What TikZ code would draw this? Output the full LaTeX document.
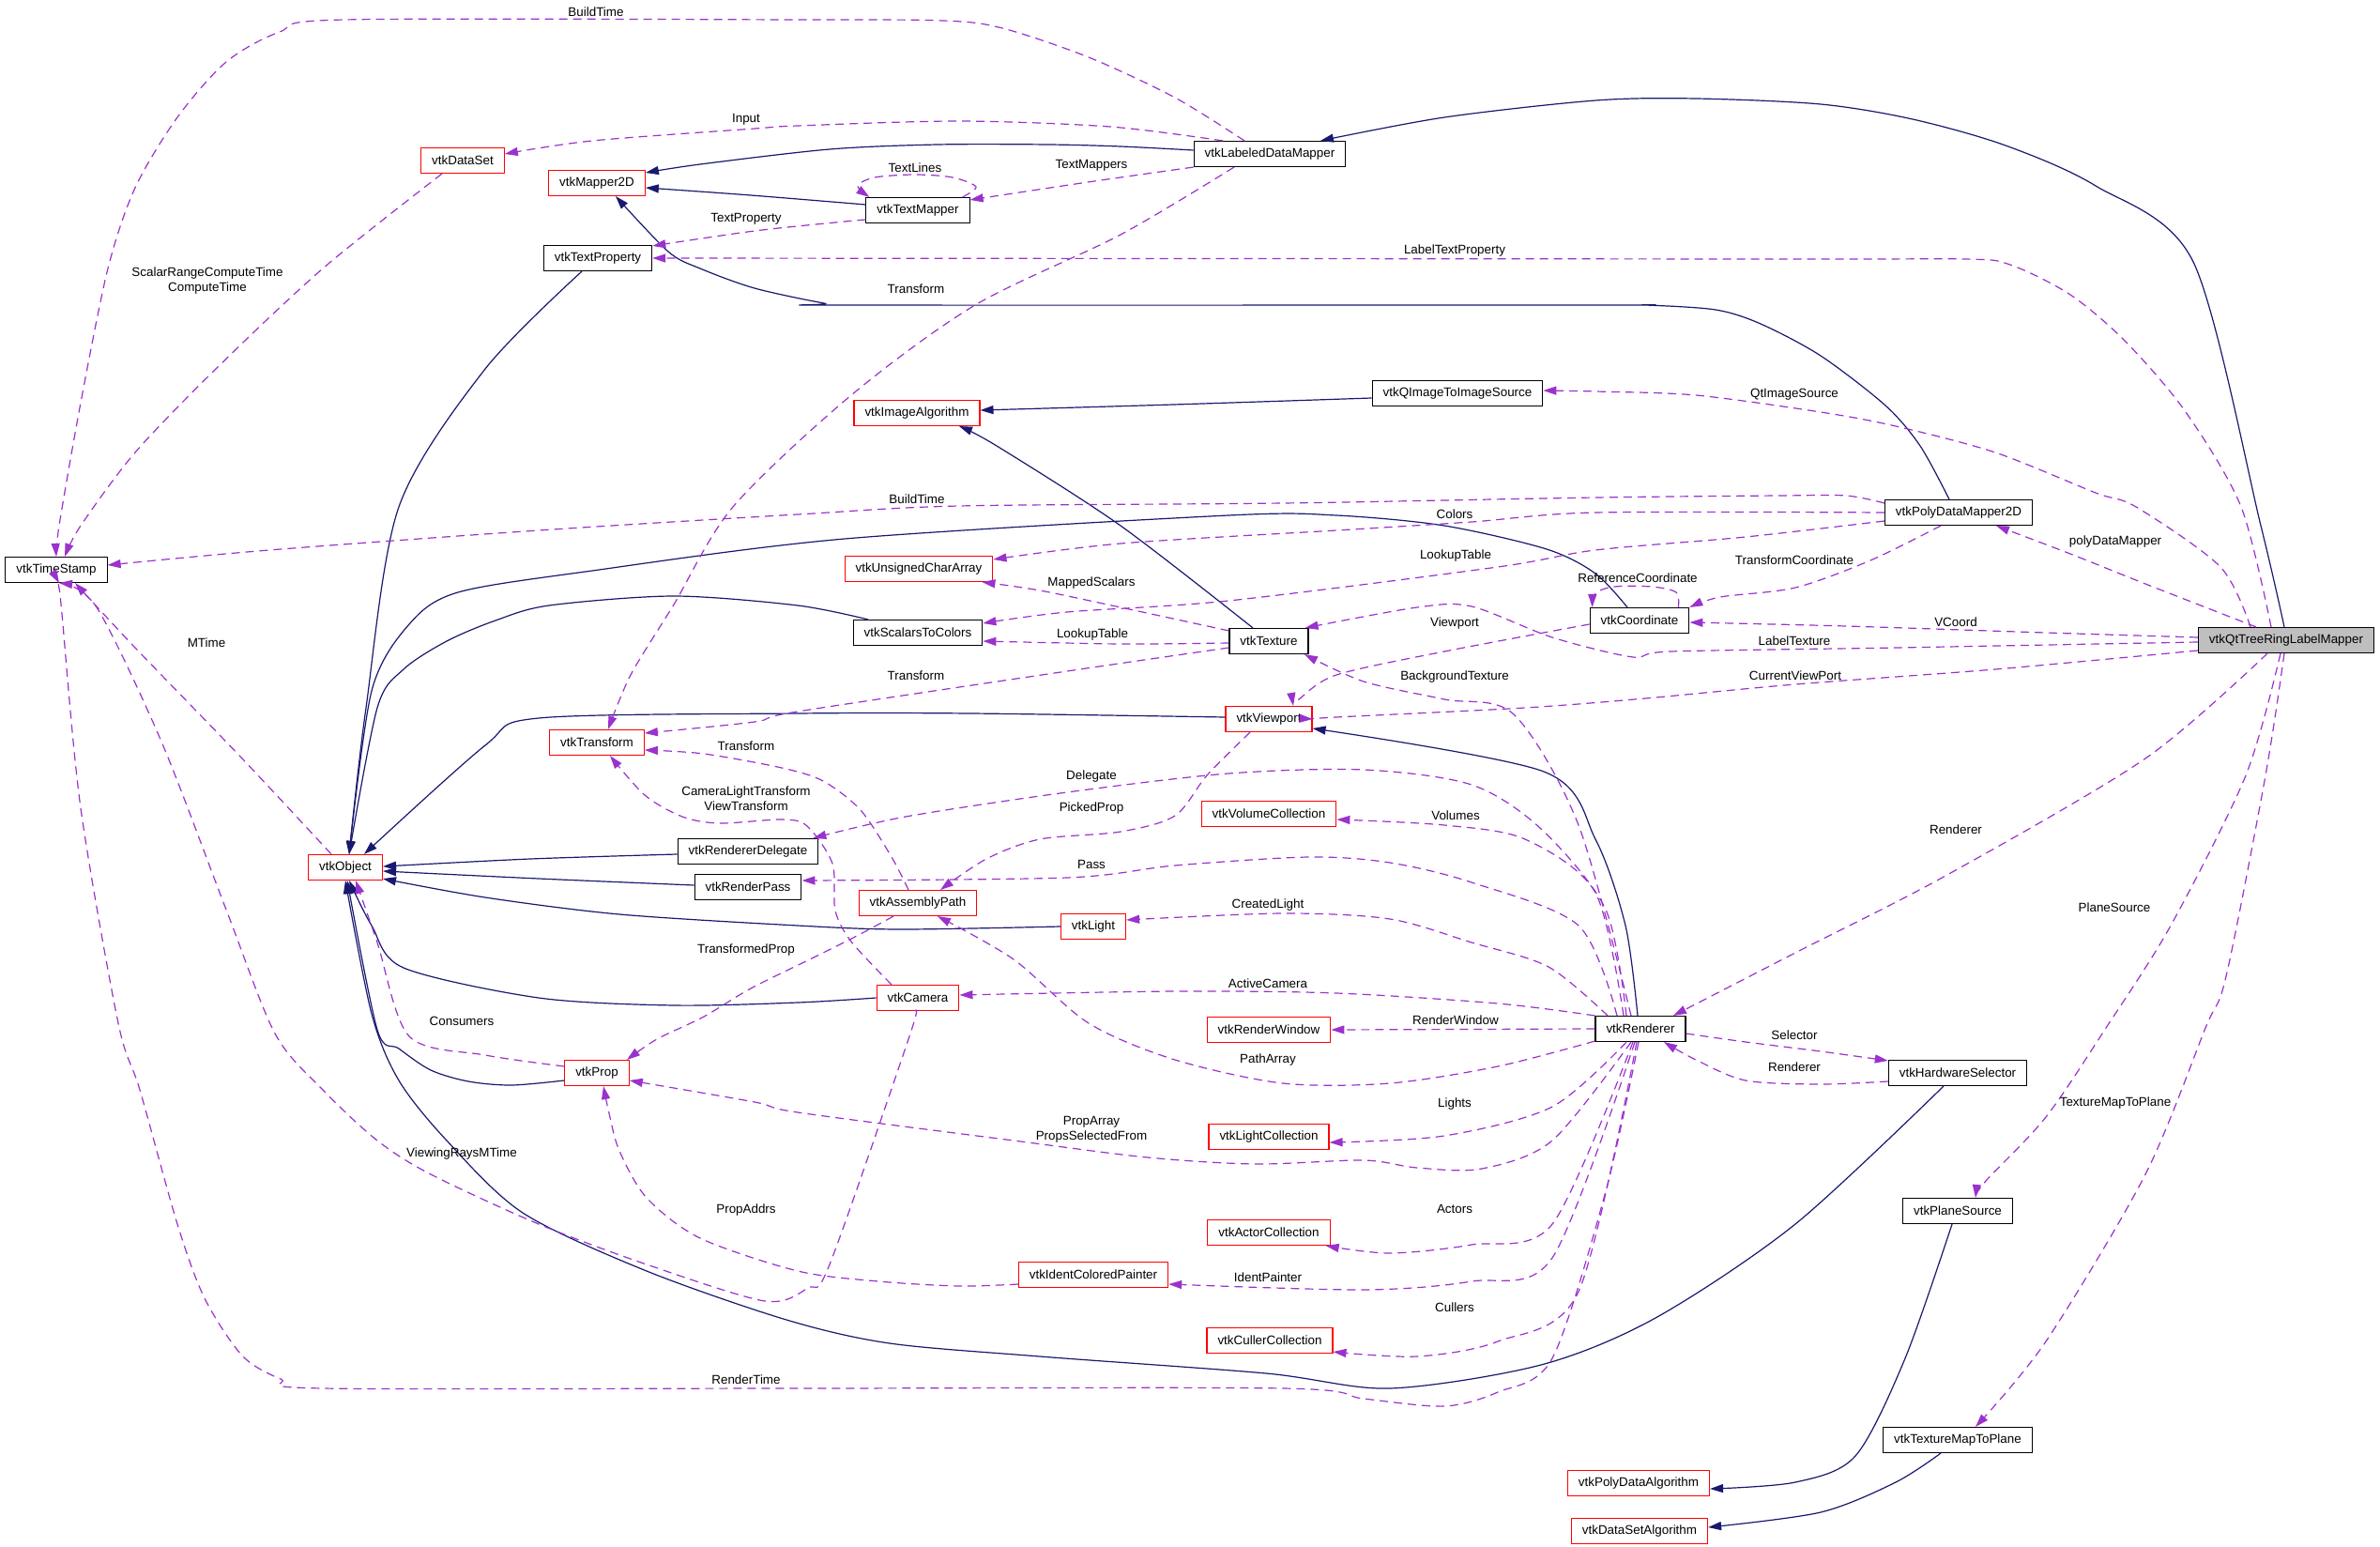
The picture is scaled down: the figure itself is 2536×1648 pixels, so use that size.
\documentclass[tikz,border=0pt]{standalone}
\usepackage{fontspec}
\setmainfont{Liberation Sans}
\usetikzlibrary{arrows.meta}
\definecolor{navyc}{HTML}{191970}
\definecolor{purp}{HTML}{9A32CD}
\newcommand{\fs}{\fontsize{13.4}{16}\selectfont}
\tikzset{
 cls/.style={draw=black, fill=white, line width=1.1pt, minimum height=27pt, inner xsep=11.5pt, inner ysep=0pt, font=\fs, text=black},
 redcls/.style={cls, draw=red},
 inh/.style={draw=navyc, line width=1.2pt, -{Triangle[length=14pt,width=9pt]}},
 usage/.style={draw=purp, line width=1.2pt, dash pattern=on 9pt off 6pt, -{Triangle[length=14pt,width=9pt]}},
 lbl/.style={font=\fs, text=black, inner sep=0pt, align=center},
}
\begin{document}
\begin{tikzpicture}[x=1pt,y=-1pt]
\path[use as bounding box, fill=white] (0,0) rectangle (2536,1648);
% nodes
\node[cls] (ldm) at (1353,164) {vtkLabeledDataMapper};
\node[redcls] (ds) at (493,171) {vtkDataSet};
\node[redcls] (m2d) at (636,195) {vtkMapper2D};
\node[cls] (tm) at (978,224) {vtkTextMapper};
\node[cls] (tp) at (637,275) {vtkTextProperty};
\node[cls] (qis) at (1553,419) {vtkQImageToImageSource};
\node[redcls] (ia) at (977,440) {vtkImageAlgorithm};
\node[cls] (pdm) at (2087,546) {vtkPolyDataMapper2D};
\node[cls] (ts) at (60,607) {vtkTimeStamp};
\node[redcls] (uca) at (979,606) {vtkUnsignedCharArray};
\node[cls] (stc) at (978,674) {vtkScalarsToColors};
\node[cls] (tex) at (1352,683) {vtkTexture};
\node[cls] (coord) at (1747,661) {vtkCoordinate};
\node[cls, fill={rgb,255:red,191;green,191;blue,191}] (qt) at (2436,682) {vtkQtTreeRingLabelMapper};
\node[redcls] (vp) at (1352,766) {vtkViewport};
\node[redcls] (tr) at (636,791) {vtkTransform};
\node[cls] (rd) at (797,907) {vtkRendererDelegate};
\node[cls] (rp) at (797,945) {vtkRenderPass};
\node[redcls] (obj) at (368,924) {vtkObject};
\node[redcls] (vc) at (1352,867) {vtkVolumeCollection};
\node[redcls] (ap) at (978,962) {vtkAssemblyPath};
\node[redcls] (light) at (1165,987) {vtkLight};
\node[redcls] (cam) at (978,1063) {vtkCamera};
\node[redcls] (rw) at (1352,1097) {vtkRenderWindow};
\node[cls] (ren) at (1748,1096) {vtkRenderer};
\node[cls] (hs) at (2086,1143) {vtkHardwareSelector};
\node[redcls] (prop) at (636,1143) {vtkProp};
\node[redcls] (lc) at (1352,1211) {vtkLightCollection};
\node[redcls] (ac) at (1352,1313) {vtkActorCollection};
\node[redcls] (icp) at (1165,1358) {vtkIdentColoredPainter};
\node[redcls] (cc) at (1353,1428) {vtkCullerCollection};
\node[cls] (ps) at (2086,1290) {vtkPlaneSource};
\node[redcls] (pda) at (1746,1580) {vtkPolyDataAlgorithm};
\node[cls] (tmtp) at (2086,1534) {vtkTextureMapToPlane};
\node[redcls] (dsa) at (1747,1631) {vtkDataSetAlgorithm};
% inheritance
\draw[inh] plot[smooth] coordinates {([xshift=-2pt]qt.north) (2409,560) (2337,279) (2233,198) (2137,155) (2038,127) (1940,111) (1807,105) (1700,107) (1539,125) ([xshift=54pt]ldm.north)};
\draw[inh] plot[smooth] coordinates {([yshift=4pt]ldm.west) (1194,156) (1117,154) (999,154) (884,159) (746,175) ([yshift=11pt]m2d.east)};
\draw[inh] plot[smooth] coordinates {([yshift=6pt]tm.west) (800,208) ([yshift=-5pt]m2d.east)};
\draw[inh] plot[smooth] coordinates {([xshift=-10pt]pdm.north) (2046,475) (2009,432) (1940,379) (1876,345) (1828,330) (1753,325) (1700,325) (907,325) (878,323) (804,307) (746,286) (712,268) ([xshift=20pt]m2d.south)};
\draw[inh] plot[smooth] coordinates {([yshift=-5pt]qis.west) (1250,431) ([yshift=3pt]ia.east)};
\draw[inh] plot[smooth] coordinates {([xshift=-17pt]tex.north) (1194,560) (1062,475) ([xshift=45pt]ia.south)};
\draw[inh] plot[smooth] coordinates {([xshift=-17pt]tp.south) (517,393) (425,540) (390,754) ([xshift=4pt]obj.north)};
\draw[inh] plot[smooth] coordinates {([xshift=-13pt]coord.north) (1700,611) (1648,585) (1539,560) (1424,549) (1309,549) (900,574) (631,608) (488,631) (436,665) (396,736) ([xshift=4pt]obj.north)};
\draw[inh] plot[smooth] coordinates {([xshift=-53pt]stc.north) (850,645) (718,635) (585,645) (528,661) (476,683) (430,713) (402,754) ([xshift=4pt]obj.north)};
\draw[inh] plot[smooth] coordinates {([yshift=2pt]vp.west) (1034,760) (850,760) (574,765) (517,794) ([xshift=20pt]obj.north)};
\draw[inh] plot[smooth] coordinates {([yshift=-3pt]rd.west) (565,915) ([yshift=1pt]obj.east)};
\draw[inh] plot[smooth] coordinates {([yshift=2pt]rp.west) (574,936) ([yshift=-4pt]obj.east)};
\draw[inh] plot[smooth] coordinates {(light.west) (959,990) (850,986) (660,974) (517,956) ([yshift=2pt]obj.south east)};
\draw[inh] plot[smooth] coordinates {(cam.west) (850,1068) (718,1071) (574,1063) (430,1031) (396,986) ([xshift=4pt]obj.south)};
\draw[inh] plot[smooth] coordinates {([yshift=-8pt]prop.west) (545,1156) (499,1152) (459,1140) (425,1117) (402,1097) ([xshift=2pt]obj.south)};
\draw[inh] plot[smooth] coordinates {([xshift=-15pt]hs.south) (1913,1304) (1764,1404) (1642,1454) (1481,1479) (1349,1463) (1108,1445) (948,1431) (838,1406) (689,1354) (557,1292) (476,1215) (425,1151) (396,1080) (obj.south)};
\draw[inh] plot[smooth] coordinates {([xshift=-3pt]ren.north) (1732,986) (1700,894) (1645,822) ([yshift=-10pt]vp.east)};
\draw[inh] plot[smooth] coordinates {([xshift=-6pt]ps.south) (2030,1447) (1977,1551) (1913,1579) ([yshift=-6pt]pda.east)};
\draw[inh] plot[smooth] coordinates {([xshift=-18pt]tmtp.south) (2020,1579) (1940,1611) ([yshift=4pt]dsa.east)};
% usage
\draw[usage] plot[smooth] coordinates {([xshift=-27pt]ldm.north) (1252,104) (1160,61) (1068,30) (1005,22) (850,21) (367,21) (298,34) (241,66) (189,125) (144,200) (115,286) (86,429) (63,560) (ts.north)};
\node[lbl] (l1) at (635,13) {BuildTime};
\draw[usage] plot[smooth] coordinates {([xshift=-50pt]ldm.north) (1183,135) (1022,129) (850,134) (804,137) (631,150) ([yshift=7pt]ds.east)};
\node[lbl] (l2) at (795,127) {Input};
\draw[usage] plot[smooth] coordinates {(ldm.south west) (1166,193) ([yshift=-3pt]tm.north east)};
\node[lbl] (l3) at (1163,176) {TextMappers};
\draw[usage] plot[smooth] coordinates {([xshift=-38pt]ldm.south) (1194,250) (1039,325) (907,421) (781,540) (718,644) (672,719) ([xshift=12pt]tr.north)};
\node[lbl] (l4) at (976,308) {Transform};
\draw[usage] plot[smooth] coordinates {([xshift=-8pt]tm.north east) (1040,199) (1015,189) (975,186) (932,189) (914,198) ([xshift=4pt]tm.north west)};
\node[lbl] (l5) at (975,179) {TextLines};
\draw[usage] plot[smooth] coordinates {([yshift=-10pt]tm.west) (900,236) (804,246) ([yshift=-1pt]tp.north east)};
\node[lbl] (l6) at (795,233) {TextProperty};
\draw[usage] plot[smooth] coordinates {([xshift=-16pt]qt.north) (2388,540) (2329,439) (2265,364) (2206,314) (2142,282) (2094,276) (1900,276) (tp.east)};
\node[lbl] (l7) at (1550,267) {LabelTextProperty};
\draw[usage] plot[smooth] coordinates {([xshift=-38pt]qt.north) (2366,604) (2276,540) (2233,525) (2126,482) (2020,454) (1940,439) (1807,421) (1700,417) ([yshift=3pt]qis.east)};
\node[lbl] (l8) at (1912,420) {QtImageSource};
\draw[usage] plot[smooth] coordinates {([xshift=-32pt]qt.north) (2286,622) (2206,590) ([xshift=40pt]pdm.south)};
\node[lbl] (l9) at (2254,577) {polyDataMapper};
\draw[usage] plot[smooth] coordinates {([yshift=3pt]qt.west) (2180,674) (1967,667) ([yshift=-2pt]coord.east)};
\node[lbl] (l10) at (2084,663) {VCoord};
\draw[usage] plot[smooth] coordinates {([yshift=-2pt]qt.west) (2020,690) (1780,694) (1740,700) (1654,679) (1568,646) (1510,647) ([xshift=-4pt]tex.north east)};
\node[lbl] (l11) at (1912,683) {LabelTexture};
\draw[usage] plot[smooth] coordinates {([yshift=-11pt]qt.west) (2126,713) (1913,729) (1753,744) (1625,754) (1424,764) (vp.east)};
\node[lbl] (l12) at (1913,720) {CurrentViewPort};
\draw[usage] plot[smooth] coordinates {([xshift=-20pt]qt.south) (2286,808) (2073,933) (1913,1015) ([xshift=35pt]ren.north)};
\node[lbl] (l13) at (2084,884) {Renderer};
\draw[usage] plot[smooth] coordinates {([xshift=-6pt]qt.south) (2393,826) (2313,986) (2244,1095) (2180,1190) (2116,1258) ([xshift=19pt]ps.north)};
\node[lbl] (l14) at (2253,967) {PlaneSource};
\draw[usage] plot[smooth] coordinates {([xshift=-2pt]qt.south) (2414,826) (2372,1040) (2350,1095) (2286,1251) (2180,1429) ([xshift=19pt]tmtp.north)};
\node[lbl] (l15) at (2254,1175) {TextureMapToPlane};
\draw[usage] plot[smooth] coordinates {([yshift=10pt]pdm.west) (1967,528) (1897,528) (1700,530) (1367,536) (1022,539) (850,548) (574,565) (287,586) ([yshift=5pt]ts.east)};
\node[lbl] (l16) at (977,532) {BuildTime};
\draw[usage] plot[smooth] coordinates {(pdm.west) (1700,546) (1568,556) (1424,565) (1194,579) ([yshift=10pt]uca.east)};
\node[lbl] (l17) at (1550,548) {Colors};
\draw[usage] plot[smooth] coordinates {([yshift=-9pt]pdm.west) (1860,572) (1700,586) (1596,604) (1309,640) (1137,652) ([yshift=10pt]stc.east)};
\node[lbl] (l18) at (1551,592) {LookupTable};
\draw[usage] plot[smooth] coordinates {([xshift=-19pt]pdm.south) (1993,597) (1913,626) (1833,636) (coord.north east)};
\node[lbl] (l19) at (1912,597) {TransformCoordinate};
\draw[usage] plot[smooth] coordinates {([xshift=-12pt]coord.north east) (1786,631) (1760,625) (1720,625) (1700,632) ([xshift=3pt]coord.north west)};
\node[lbl] (l20) at (1745,616) {ReferenceCoordinate};
\draw[usage] plot[smooth] coordinates {([yshift=-4pt]coord.west) (1539,694) (1424,719) (1384,745) ([xshift=26pt]vp.north)};
\node[lbl] (l21) at (1550,664) {Viewport};
\draw[usage] plot[smooth] coordinates {([yshift=-3pt]tex.north west) (1194,647) (1108,629) ([xshift=-12pt]uca.south east)};
\node[lbl] (l22) at (1163,621) {MappedScalars};
\draw[usage] plot[smooth] coordinates {([yshift=-2pt]tex.west) (1194,686) ([yshift=-9pt]stc.east)};
\node[lbl] (l23) at (1164,676) {LookupTable};
\draw[usage] plot[smooth] coordinates {([yshift=-7pt]tex.west) (1137,715) (850,758) (804,769) ([yshift=10pt]tr.east)};
\node[lbl] (l24) at (976,720) {Transform};
\draw[usage] plot[smooth] coordinates {([xshift=-20pt]vp.south) (1286,826) (1252,869) (1194,886) (1108,894) (1051,915) ([xshift=24pt]ap.north)};
\node[lbl] (l25) at (1163,861) {PickedProp};
\draw[usage] plot[smooth] coordinates {([xshift=-10pt]ren.north) (1682,879) (1613,761) (1539,745) (1453,726) ([xshift=38pt]tex.south)};
\node[lbl] (l26) at (1550,721) {BackgroundTexture};
\draw[usage] plot[smooth] coordinates {([xshift=-15pt]ren.north) (1711,969) (1642,883) (1568,836) (1453,820) (1309,824) (1137,844) (965,870) ([xshift=-6pt]rd.north east)};
\node[lbl] (l27) at (1163,827) {Delegate};
\draw[usage] plot[smooth] coordinates {([xshift=-18pt]ren.north) (1700,951) (1625,894) (1539,879) ([yshift=-6pt]vc.east)};
\node[lbl] (l28) at (1551,869) {Volumes};
\draw[usage] plot[smooth] coordinates {([xshift=-25pt]ren.north) (1682,986) (1568,940) (1481,919) (1395,913) (1252,922) (1137,935) ([yshift=7pt]rp.east)};
\node[lbl] (l29) at (1163,921) {Pass};
\draw[usage] plot[smooth] coordinates {([xshift=-35pt]ren.north) (1650,1030) (1568,1004) (1481,979) (1367,973) ([yshift=7pt]light.east)};
\node[lbl] (l30) at (1351,964) {CreatedLight};
\draw[usage] plot[smooth] coordinates {(ren.north west) (1596,1069) (1424,1058) (1252,1056) ([yshift=3pt]cam.east)};
\node[lbl] (l31) at (1351,1048) {ActiveCamera};
\draw[usage] (ren.west) -- (rw.east);
\node[lbl] (l32) at (1551,1087) {RenderWindow};
\draw[usage] plot[smooth] coordinates {([yshift=1pt]ren.south west) (1596,1136) (1481,1154) (1367,1154) (1252,1129) (1160,1090) (1080,1022) ([xshift=21pt]ap.south)};
\node[lbl] (l33) at (1351,1129) {PathArray};
\draw[usage] plot[smooth] coordinates {([xshift=-15pt]ren.south) (1654,1179) (1539,1210) ([yshift=-6pt]lc.east)};
\node[lbl] (l34) at (1550,1176) {Lights};
\draw[usage] plot[smooth] coordinates {([xshift=-10pt]ren.south) (1654,1215) (1579,1245) (1510,1244) (1453,1236) (1338,1240) (1223,1233) (1080,1215) (850,1185) (804,1174) ([yshift=-8pt]prop.east)};
\node[lbl] (l35) at (1163,1203) {PropArray\\PropsSelectedFrom};
\draw[usage] plot[smooth] coordinates {([xshift=-8pt]ren.south) (1654,1304) (1568,1326) (1481,1335) ([xshift=-5pt]ac.south east)};
\node[lbl] (l36) at (1550,1288) {Actors};
\draw[usage] plot[smooth] coordinates {([xshift=-6pt]ren.south) (1654,1340) (1568,1365) (1453,1374) ([yshift=-10pt]icp.east)};
\node[lbl] (l37) at (1351,1361) {IdentPainter};
\draw[usage] plot[smooth] coordinates {([xshift=-4pt]ren.south) (1682,1376) (1596,1429) (1510,1445) ([yshift=2pt]cc.south east)};
\node[lbl] (l38) at (1550,1393) {Cullers};
\draw[usage] plot[smooth] coordinates {([xshift=-2pt]ren.south) (1711,1269) (1654,1447) (1596,1483) (1539,1498) (1453,1490) (1367,1479) (850,1479) (344,1479) (299,1469) (258,1444) (218,1383) (189,1304) (149,1161) (126,1090) (86,861) (66,654) ([xshift=3pt]ts.south)};
\node[lbl] (l39) at (795,1470) {RenderTime};
\draw[usage] plot[smooth] coordinates {([yshift=-5pt]ren.east) (1860,1110) (1940,1120) ([yshift=-1pt]hs.north west)};
\node[lbl] (l40) at (1912,1103) {Selector};
\draw[usage] plot[smooth] coordinates {([yshift=-9pt]hs.west) (1940,1155) (1860,1151) (1807,1129) ([xshift=25pt]ren.south)};
\node[lbl] (l41) at (1912,1137) {Renderer};
\draw[usage] plot[smooth] coordinates {([xshift=-10pt]ap.north) (950,913) (917,863) (877,832) (833,818) (750,803) ([yshift=-8pt]tr.east)};
\node[lbl] (l42) at (795,795) {Transform};
\draw[usage] plot[smooth] coordinates {([xshift=-28pt]cam.north) (907,1003) (890,970) (887,920) (860,880) (833,873) (767,877) (727,870) (687,847) ([xshift=14pt]tr.south)};
\node[lbl] (l43) at (795,851) {CameraLightTransform\\ViewTransform};
\draw[usage] plot[smooth] coordinates {([xshift=-26pt]ap.south) (913,997) (867,1020) (800,1053) (750,1083) (700,1107) ([xshift=32pt]prop.north)};
\node[lbl] (l44) at (795,1012) {TransformedProp};
\draw[usage] plot[smooth] coordinates {([xshift=-3pt]cam.south) (969,1104) (884,1347) (861,1372) (815,1386) (689,1347) (574,1304) (459,1251) (402,1215) (344,1161) (293,1101) (241,969) (172,790) (103,647) ([xshift=3pt]ts.south)};
\node[lbl] (l45) at (492,1229) {ViewingRaysMTime};
\draw[usage] plot[smooth] coordinates {([xshift=-15pt]obj.north) (258,808) (144,690) ([xshift=20pt]ts.south)};
\node[lbl] (l46) at (220,685) {MTime};
\draw[usage] plot[smooth] coordinates {([xshift=-22pt]ds.south) (344,286) (230,393) (144,482) (86,560) ([xshift=9pt]ts.north)};
\node[lbl] (l47) at (221,299) {ScalarRangeComputeTime\\ComputeTime};
\draw[usage] plot[smooth] coordinates {([yshift=7pt]prop.west) (517,1124) (436,1104) (402,1004) ([xshift=11pt]obj.south)};
\node[lbl] (l48) at (492,1088) {Consumers};
\draw[usage] plot[smooth] coordinates {([yshift=-10pt]icp.west) (1022,1370) (936,1365) (850,1354) (746,1319) (689,1276) (660,1226) (649,1186) ([xshift=7pt]prop.south)};
\node[lbl] (l49) at (795,1289) {PropAddrs};
\end{tikzpicture}
\end{document}
